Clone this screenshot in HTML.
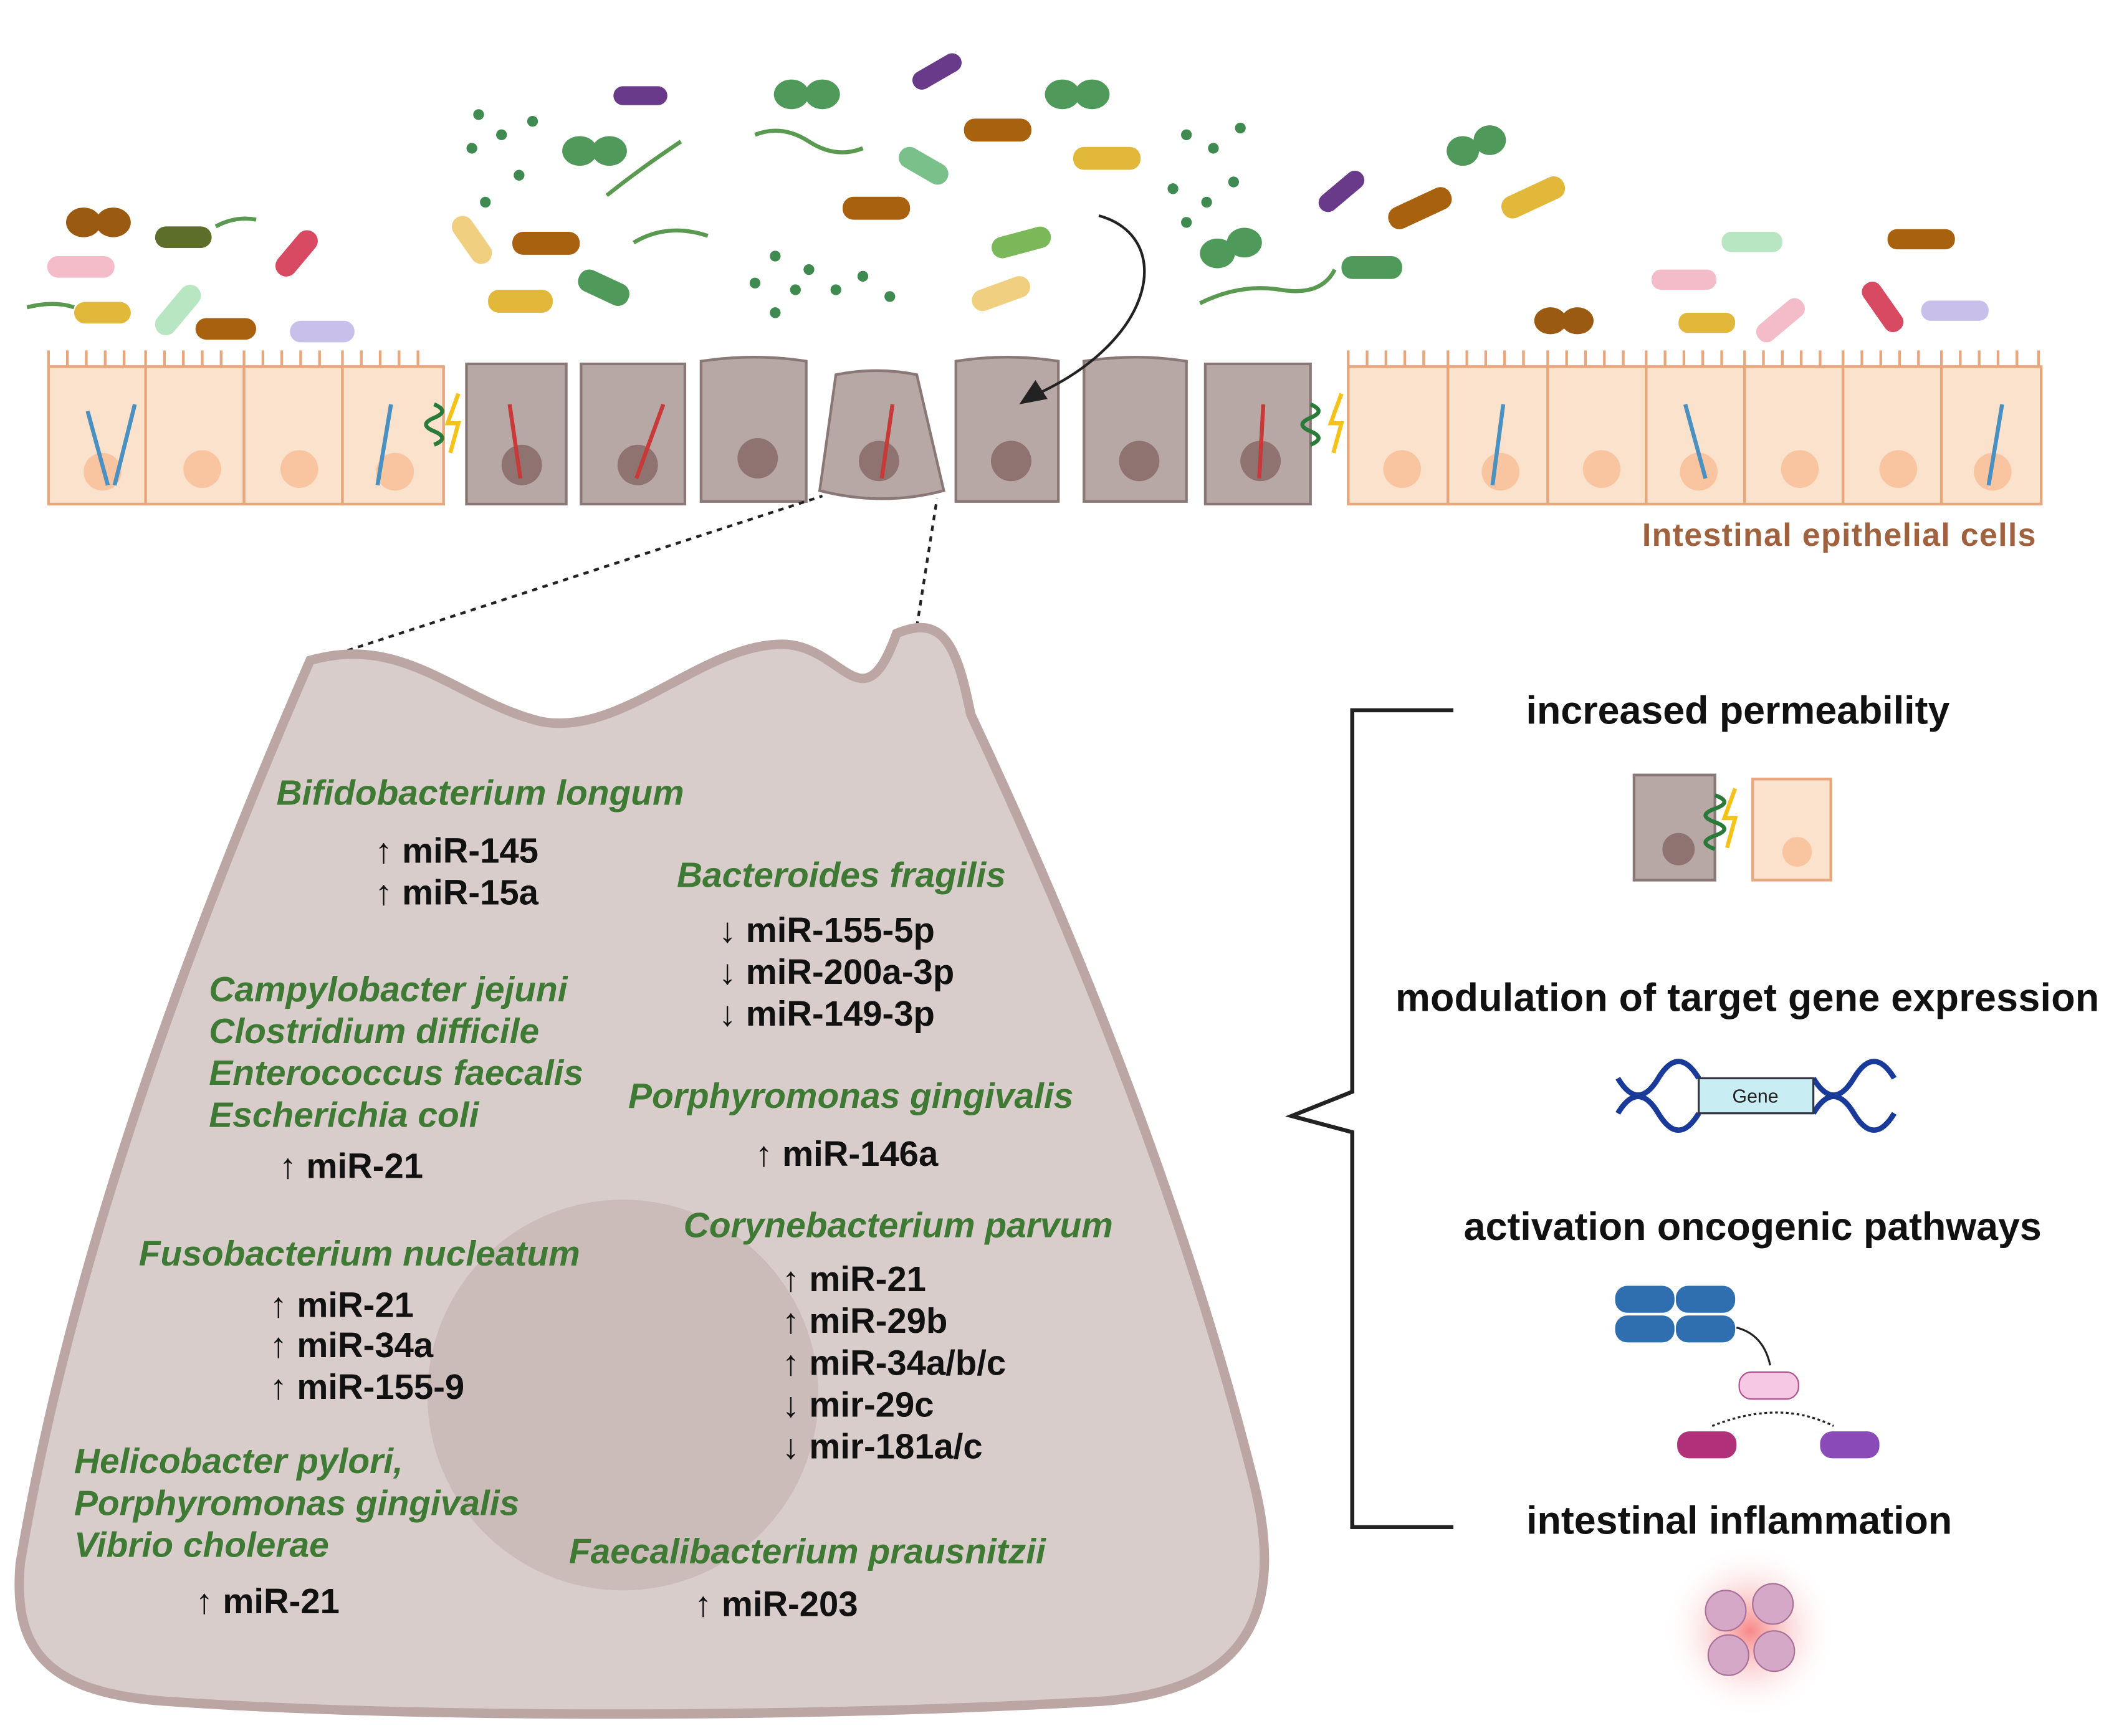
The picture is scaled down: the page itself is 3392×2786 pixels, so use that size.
<!DOCTYPE html>
<html><head><meta charset="utf-8"><style>
html,body{margin:0;padding:0;background:#fff}
svg{display:block}
.g{font-family:"Liberation Sans",sans-serif;font-weight:bold;font-style:italic;fill:#3f7a35;font-size:26.3px}
.b{font-family:"Liberation Sans",sans-serif;font-weight:bold;fill:#111;font-size:26px}
.r{font-family:"Liberation Sans",sans-serif;font-weight:bold;fill:#111;font-size:29px}
</style></head><body>
<svg width="3392" height="2786" viewBox="0 0 1568 1288" preserveAspectRatio="none" xmlns="http://www.w3.org/2000/svg">
<rect width="1568" height="1288" fill="#fff"/>
<g>
<ellipse cx="62" cy="165" rx="13" ry="11" fill="#9a5a12"/><ellipse cx="84" cy="165" rx="13" ry="11" fill="#9a5a12"/>
<rect x="35" y="190" width="50" height="16" rx="8" fill="#f4bcc8"/>
<rect x="115" y="168" width="42" height="16" rx="8" fill="#5c6e2a"/>
<rect x="55" y="224" width="42" height="16" rx="8" fill="#e2b83a"/>
<rect x="145" y="236" width="45" height="16" rx="8" fill="#a8620f"/>
<rect x="215" y="238" width="48" height="16" rx="8" fill="#c8c0ea"/>
<rect x="200" y="180" width="40" height="16" rx="8" fill="#d84a62" transform="rotate(-50 220 188)"/>
<rect x="110" y="222" width="44" height="16" rx="8" fill="#b8e6c2" transform="rotate(-50 132 230)"/>
<rect x="455" y="64" width="40" height="14" rx="7" fill="#6a3a8a"/>
<ellipse cx="430" cy="112" rx="13" ry="11" fill="#4f9a5a"/><ellipse cx="452" cy="112" rx="13" ry="11" fill="#4f9a5a"/>
<rect x="380" y="172" width="50" height="17" rx="8" fill="#a8620f"/>
<rect x="362" y="215" width="48" height="17" rx="8" fill="#e2b83a"/>
<rect x="330" y="170" width="40" height="16" rx="8" fill="#f0d080" transform="rotate(55 350 178)"/>
<rect x="428" y="205" width="40" height="17" rx="8" fill="#4f9a5a" transform="rotate(25 448 213)"/>
<ellipse cx="587" cy="70" rx="13" ry="11" fill="#4f9a5a"/><ellipse cx="610" cy="70" rx="13" ry="11" fill="#4f9a5a"/>
<rect x="675" y="46" width="40" height="14" rx="7" fill="#6a3a8a" transform="rotate(-30 695 53)"/>
<rect x="715" y="88" width="50" height="17" rx="8" fill="#a8620f"/>
<rect x="625" y="146" width="50" height="17" rx="8" fill="#a8620f"/>
<rect x="796" y="109" width="50" height="17" rx="8" fill="#e2b83a"/>
<ellipse cx="788" cy="70" rx="13" ry="11" fill="#4f9a5a"/><ellipse cx="810" cy="70" rx="13" ry="11" fill="#4f9a5a"/>
<rect x="720" y="210" width="45" height="16" rx="8" fill="#f0d080" transform="rotate(-20 742 218)"/>
<rect x="735" y="172" width="45" height="16" rx="8" fill="#7ab85a" transform="rotate(-15 757 180)"/>
<rect x="665" y="115" width="40" height="16" rx="8" fill="#7ac08a" transform="rotate(30 685 123)"/>
<rect x="975" y="135" width="40" height="14" rx="7" fill="#6a3a8a" transform="rotate(-40 995 142)"/>
<rect x="1028" y="146" width="50" height="17" rx="8" fill="#a8620f" transform="rotate(-25 1053 154)"/>
<rect x="1112" y="138" width="50" height="17" rx="8" fill="#e2b83a" transform="rotate(-25 1137 146)"/>
<ellipse cx="1085" cy="112" rx="12" ry="11" fill="#4f9a5a"/><ellipse cx="1105" cy="104" rx="12" ry="11" fill="#4f9a5a"/>
<ellipse cx="903" cy="188" rx="13" ry="11" fill="#4f9a5a"/><ellipse cx="923" cy="180" rx="13" ry="11" fill="#4f9a5a"/>
<rect x="995" y="190" width="45" height="17" rx="8" fill="#4f9a5a"/>
<rect x="1400" y="170" width="50" height="15" rx="7" fill="#a8620f"/>
<rect x="1277" y="172" width="45" height="15" rx="7" fill="#b8e6c2"/>
<rect x="1225" y="200" width="48" height="15" rx="7" fill="#f4bcc8"/>
<rect x="1245" y="232" width="42" height="15" rx="7" fill="#e2b83a"/>
<ellipse cx="1150" cy="238" rx="12" ry="10" fill="#9a5a12"/><ellipse cx="1170" cy="238" rx="12" ry="10" fill="#9a5a12"/>
<rect x="1425" y="223" width="50" height="15" rx="7" fill="#c8c0ea"/>
<rect x="1375" y="220" width="42" height="15" rx="7" fill="#d84a62" transform="rotate(55 1396 228)"/>
<rect x="1300" y="230" width="42" height="15" rx="7" fill="#f4bcc8" transform="rotate(-40 1321 238)"/>
<g fill="#3f8a50"><circle cx="355" cy="85" r="4"/><circle cx="372" cy="100" r="4"/><circle cx="350" cy="110" r="4"/><circle cx="385" cy="130" r="4"/><circle cx="360" cy="150" r="4"/><circle cx="395" cy="90" r="4"/><circle cx="575" cy="190" r="4"/><circle cx="600" cy="200" r="4"/><circle cx="590" cy="215" r="4"/><circle cx="620" cy="215" r="4"/><circle cx="640" cy="205" r="4"/><circle cx="560" cy="210" r="4"/><circle cx="575" cy="232" r="4"/><circle cx="660" cy="220" r="4"/><circle cx="880" cy="100" r="4"/><circle cx="900" cy="110" r="4"/><circle cx="870" cy="140" r="4"/><circle cx="895" cy="150" r="4"/><circle cx="915" cy="135" r="4"/><circle cx="880" cy="165" r="4"/><circle cx="920" cy="95" r="4"/></g>
<g fill="none" stroke="#5a9a50" stroke-width="3"><path d="M560 100 q20 -8 40 5 t40 5"/><path d="M470 180 q25 -15 55 -5"/><path d="M890 225 q30 -15 60 -10 t40 -15"/><path d="M450 145 q25 -20 55 -40"/><path d="M20 228 q20 -5 35 0"/><path d="M160 168 q15 -8 30 -5"/></g>
</g>
<g stroke="#e8a67c" stroke-width="2" fill="#fbe2cd">
<rect x="36" y="272" width="72" height="102"/><rect x="108" y="272" width="73" height="102"/><rect x="181" y="272" width="73" height="102"/><rect x="254" y="272" width="75" height="102"/>
<rect x="1000" y="272" width="74" height="102"/><rect x="1074" y="272" width="74" height="102"/><rect x="1148" y="272" width="73" height="102"/><rect x="1221" y="272" width="73" height="102"/><rect x="1294" y="272" width="73" height="102"/><rect x="1367" y="272" width="73" height="102"/><rect x="1440" y="272" width="74" height="102"/>
</g>
<g fill="none" stroke="#e8a67c" stroke-width="2"><path d="M36 272 V260 M50 272V260 M64 272V260 M78 272V260 M92 272V260 M108 272V260 M122 272V260 M136 272V260 M150 272V260 M164 272V260 M181 272V260 M195 272V260 M209 272V260 M223 272V260 M237 272V260 M254 272V260 M268 272V260 M282 272V260 M296 272V260 M310 272V260 M1000 272V260 M1014 272V260 M1028 272V260 M1042 272V260 M1056 272V260 M1074 272V260 M1088 272V260 M1102 272V260 M1116 272V260 M1130 272V260 M1148 272V260 M1162 272V260 M1176 272V260 M1190 272V260 M1204 272V260 M1221 272V260 M1235 272V260 M1249 272V260 M1263 272V260 M1277 272V260 M1294 272V260 M1308 272V260 M1322 272V260 M1336 272V260 M1350 272V260 M1367 272V260 M1381 272V260 M1395 272V260 M1409 272V260 M1423 272V260 M1440 272V260 M1454 272V260 M1468 272V260 M1482 272V260 M1496 272V260 M1512 272V260"/></g>
<g fill="#f9c4a0"><circle cx="76" cy="350" r="14"/><circle cx="150" cy="348" r="14"/><circle cx="222" cy="348" r="14"/><circle cx="293" cy="350" r="14"/><circle cx="1040" cy="348" r="14"/><circle cx="1113" cy="350" r="14"/><circle cx="1188" cy="348" r="14"/><circle cx="1260" cy="350" r="14"/><circle cx="1335" cy="348" r="14"/><circle cx="1408" cy="348" r="14"/><circle cx="1478" cy="350" r="14"/></g>
<g stroke="#8a7876" stroke-width="2" fill="#b8a8a5">
<path d="M346 270 h74 v104 h-74 z"/><path d="M431 270 h77 v104 h-77 z"/><path d="M520 268 q40 -6 78 0 v104 h-78 z"/><path d="M620 278 q30 -6 60 0 l20 86 q-45 12 -92 0 z"/><path d="M709 268 q38 -6 76 0 v104 h-76 z"/><path d="M804 268 q38 -6 76 0 v104 h-76 z"/><path d="M894 270 h78 v104 h-78 z"/>
</g>
<g fill="#8f7370"><circle cx="387" cy="345" r="15"/><circle cx="473" cy="345" r="15"/><circle cx="562" cy="340" r="15"/><circle cx="652" cy="342" r="15"/><circle cx="750" cy="342" r="15"/><circle cx="845" cy="342" r="15"/><circle cx="935" cy="342" r="15"/></g>
<g stroke="#2a7a3a" stroke-width="3" fill="none"><path d="M322 300 q12 5 0 10 q-12 5 0 10 q12 5 0 10"/><path d="M972 300 q12 5 0 10 q-12 5 0 10 q12 5 0 10"/></g>
<path d="M340 292 l-8 22 h8 l-6 22" stroke="#f5c21a" stroke-width="3" fill="none"/>
<path d="M995 292 l-8 22 h8 l-6 22" stroke="#f5c21a" stroke-width="3" fill="none"/>
<g stroke="#4a90c0" stroke-width="3"><path d="M65 305 l15 55 M100 300 l-15 60 M290 300 l-10 60 M1115 300 l-8 60 M1250 300 l15 55 M1485 300 l-10 60"/></g>
<g stroke="#c83a3a" stroke-width="3"><path d="M378 300 l8 55 M492 300 l-20 55 M662 300 l-8 55 M937 300 l-3 55"/></g>
<!-- arrow -->
<path d="M815 160 C870 175 860 250 770 292" fill="none" stroke="#222" stroke-width="2"/>
<path d="M756 300 l21 -4 l-9 -14 z" fill="#222"/>
<text x="1218" y="405" font-family="Liberation Sans,sans-serif" font-weight="bold" font-size="24" textLength="292" fill="#a0623e">Intestinal epithelial cells</text>
<path d="M235 490 L610 368 M680 465 L695 370" stroke="#222" stroke-width="2" stroke-dasharray="4 4" fill="none"/>
<path d="M230 490 C300 470 340 520 400 535 C460 548 520 478 580 478 C625 478 640 540 665 470 C700 455 710 480 720 530 C800 700 880 900 930 1100 C960 1220 900 1255 820 1262 C600 1275 300 1275 120 1262 C30 1255 10 1220 15 1160 C50 950 130 720 230 490 Z" fill="#d9cdcb" stroke="#bba6a3" stroke-width="7"/>
<circle cx="462" cy="1035" r="145" fill="#cbbcba"/>
<g class="g">
<text x="205" y="597">Bifidobacterium longum</text>
<text x="502" y="658">Bacteroides fragilis</text>
<text x="155" y="743">Campylobacter jejuni</text>
<text x="155" y="774">Clostridium difficile</text>
<text x="155" y="805">Enterococcus faecalis</text>
<text x="155" y="836">Escherichia coli</text>
<text x="466" y="822">Porphyromonas gingivalis</text>
<text x="507" y="918">Corynebacterium parvum</text>
<text x="103" y="939">Fusobacterium nucleatum</text>
<text x="55" y="1093">Helicobacter pylori,</text>
<text x="55" y="1124">Porphyromonas gingivalis</text>
<text x="55" y="1155">Vibrio cholerae</text>
<text x="422" y="1160">Faecalibacterium prausnitzii</text>
</g>
<g class="b">
<text x="278" y="640">↑ miR-145</text><text x="278" y="671">↑ miR-15a</text>
<text x="533" y="699">↓ miR-155-5p</text><text x="533" y="730">↓ miR-200a-3p</text><text x="533" y="761">↓ miR-149-3p</text>
<text x="207" y="874">↑ miR-21</text>
<text x="560" y="865">↑ miR-146a</text>
<text x="200" y="977">↑ miR-21</text><text x="200" y="1007">↑ miR-34a</text><text x="200" y="1038">↑ miR-155-9</text>
<text x="580" y="958">↑ miR-21</text><text x="580" y="989">↑ miR-29b</text><text x="580" y="1020">↑ miR-34a/b/c</text><text x="580" y="1051">↓ mir-29c</text><text x="580" y="1082">↓ mir-181a/c</text>
<text x="145" y="1197">↑ miR-21</text>
<text x="515" y="1199">↑ miR-203</text>
</g>
<path d="M1078 527 H1003 V810 L958 828 L1003 840 V1133 H1078" fill="none" stroke="#222" stroke-width="3"/>
<g class="r" text-anchor="middle">
<text x="1289" y="537">increased permeability</text>
<text x="1296" y="750" textLength="522">modulation of target gene expression</text>
<text x="1300" y="920">activation oncogenic pathways</text>
<text x="1290" y="1138">intestinal inflammation</text>
</g>
<rect x="1212" y="575" width="60" height="78" fill="#b8a8a5" stroke="#8a7876" stroke-width="2"/>
<circle cx="1245" cy="630" r="12" fill="#8f7370"/>
<rect x="1300" y="578" width="58" height="75" fill="#fbe2cd" stroke="#e8a67c" stroke-width="2"/>
<circle cx="1333" cy="632" r="11" fill="#f9c4a0"/>
<path d="M1272 590 q14 5 0 10 q-14 5 0 10 q14 5 0 10 q-14 5 0 10" stroke="#2a7a3a" stroke-width="3" fill="none"/>
<path d="M1287 585 l-8 22 h8 l-6 22" stroke="#f5c21a" stroke-width="3" fill="none"/>
<path d="M1200 800 q15 25 30 0 t30 0 M1200 826 q15 -25 30 0 t30 0 M1345 800 q15 25 30 0 t30 0 M1345 826 q15 -25 30 0 t30 0" stroke="#1a3a9a" stroke-width="4" fill="none"/>
<rect x="1260" y="800" width="85" height="26" fill="#c8eef4" stroke="#334" stroke-width="1.5"/>
<text x="1302" y="818" text-anchor="middle" font-family="Liberation Sans,sans-serif" font-size="14" fill="#222">Gene</text>
<g fill="#2f6fb0"><rect x="1198" y="954" width="44" height="20" rx="9"/><rect x="1243" y="954" width="44" height="20" rx="9"/><rect x="1198" y="976" width="44" height="20" rx="9"/><rect x="1243" y="976" width="44" height="20" rx="9"/></g>
<path d="M1288 985 q20 5 25 28" stroke="#222" fill="none" stroke-width="1.5"/>
<rect x="1290" y="1018" width="44" height="20" rx="9" fill="#f6c8e4" stroke="#b05090"/>
<rect x="1244" y="1062" width="44" height="20" rx="9" fill="#b0307a"/>
<rect x="1350" y="1062" width="44" height="20" rx="9" fill="#8a4ab8"/>
<path d="M1270 1058 q50 -20 90 0" stroke="#222" fill="none" stroke-width="1.5" stroke-dasharray="2 2"/>
<defs><radialGradient id="rg"><stop offset="0" stop-color="#f46a6a" stop-opacity=".8"/><stop offset="1" stop-color="#ffffff" stop-opacity="0"/></radialGradient></defs>
<circle cx="1298" cy="1210" r="65" fill="url(#rg)"/>
<g fill="#d6a8c8" stroke="#a87098"><circle cx="1280" cy="1195" r="15"/><circle cx="1315" cy="1190" r="15"/><circle cx="1282" cy="1228" r="15"/><circle cx="1316" cy="1225" r="15"/></g>
</svg>
</body></html>
